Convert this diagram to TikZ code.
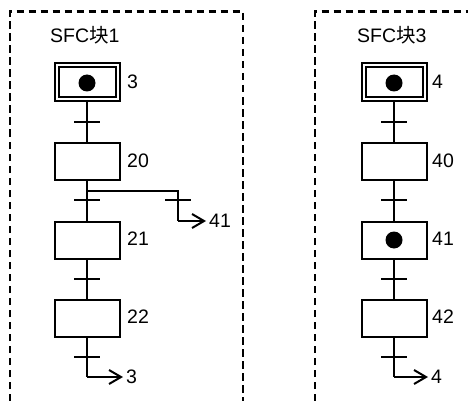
\documentclass[tikz,border=0pt]{standalone}
\usepackage{fontspec}
\setmainfont{Liberation Sans}
\newfontfamily\cjk{Noto Sans CJK SC}
\usetikzlibrary{arrows.meta}
\begin{document}
\begin{tikzpicture}[x=1pt,y=-1pt,
  stepbox/.style={draw, line width=2pt, minimum width=65pt, minimum height=37pt, inner sep=0pt},
  initbox/.style={draw, line width=2pt, double, double distance=2pt, minimum width=61pt, minimum height=34pt, inner sep=0pt},
  lbl/.style={anchor=west, inner sep=0pt, font=\fontsize{19.5}{22}\selectfont},
  ttl/.style={anchor=base west, inner sep=0pt, font=\fontsize{19.5}{22}\selectfont},
  ln/.style={line width=2pt},
  arr/.style={line width=2pt, shorten >=3pt, -{Straight Barb[length=12pt,width=14pt]}},
  frame/.style={line width=2.5pt, dash pattern=on 7.5pt off 4.5pt},
  dot/.style={fill=black}
]
\useasboundingbox (0,0) rectangle (468,401);
% frames
\draw[frame] (10,401) -- (10,11.5) -- (243,11.5) -- (243,401);
\draw[frame] (315,401) -- (315,11.5) -- (468,11.5);

% ---------- left chart ----------
\node[ttl] (tA) at (50,43) {SFC{\cjk 块}1};
\node[initbox] (a0) at (87,82) {};
\node[stepbox] (a1) at (87,161.5) {};
\node[stepbox] (a2) at (87,240.5) {};
\node[stepbox] (a3) at (87,318) {};
\fill[dot] (87,83) circle (8.5);
\node[lbl] (la0) at (127,82) {3};
\node[lbl] (la1) at (127,161) {20};
\node[lbl] (la2) at (127,239) {21};
\node[lbl] (la3) at (127,317) {22};
\node[lbl] (lx41) at (209,221) {41};
\node[lbl] (lx3) at (126,377) {3};
\coordinate (ta1) at (87,122);
\coordinate (ta2) at (87,200);
\coordinate (ta3) at (87,279);
\coordinate (ta4) at (87,357);
\coordinate (tb) at (178,200);
\coordinate (bj) at (87,191);
\coordinate (bk) at (178,191);
\coordinate (bc) at (178,221);
\coordinate (ea) at (87,377);
\draw[ln] (a0.south) -- (a1.north);
\draw[ln] (a1.south) -- (a2.north);
\draw[ln] (a2.south) -- (a3.north);
\draw[ln] (bj) -- (bk) -- (bc);
\draw[arr] (bc) -- (lx41.west);
\draw[ln] (a3.south) -- (ea);
\draw[arr] (ea) -- (lx3.west);
\foreach \t in {ta1,ta2,ta3,ta4,tb}
  \draw[ln] ([xshift=-13pt]\t) -- ([xshift=13pt]\t);

% ---------- right chart ----------
\node[ttl] (tB) at (357,43) {SFC{\cjk 块}3};
\node[initbox] (b0) at (394,82) {};
\node[stepbox] (b1) at (394,161.5) {};
\node[stepbox] (b2) at (394,240.5) {};
\node[stepbox] (b3) at (394,318) {};
\fill[dot] (394,83) circle (8.5);
\fill[dot] (394,240) circle (8.5);
\node[lbl] (lb0) at (432,82) {4};
\node[lbl] (lb1) at (432,161) {40};
\node[lbl] (lb2) at (432,239) {41};
\node[lbl] (lb3) at (432,317) {42};
\node[lbl] (ly4) at (431,377) {4};
\coordinate (tc1) at (394,122);
\coordinate (tc2) at (394,200);
\coordinate (tc3) at (394,279);
\coordinate (tc4) at (394,357);
\coordinate (eb) at (394,377);
\draw[ln] (b0.south) -- (b1.north);
\draw[ln] (b1.south) -- (b2.north);
\draw[ln] (b2.south) -- (b3.north);
\draw[ln] (b3.south) -- (eb);
\draw[arr] (eb) -- (ly4.west);
\foreach \t in {tc1,tc2,tc3,tc4}
  \draw[ln] ([xshift=-13pt]\t) -- ([xshift=13pt]\t);
\end{tikzpicture}
\end{document}
